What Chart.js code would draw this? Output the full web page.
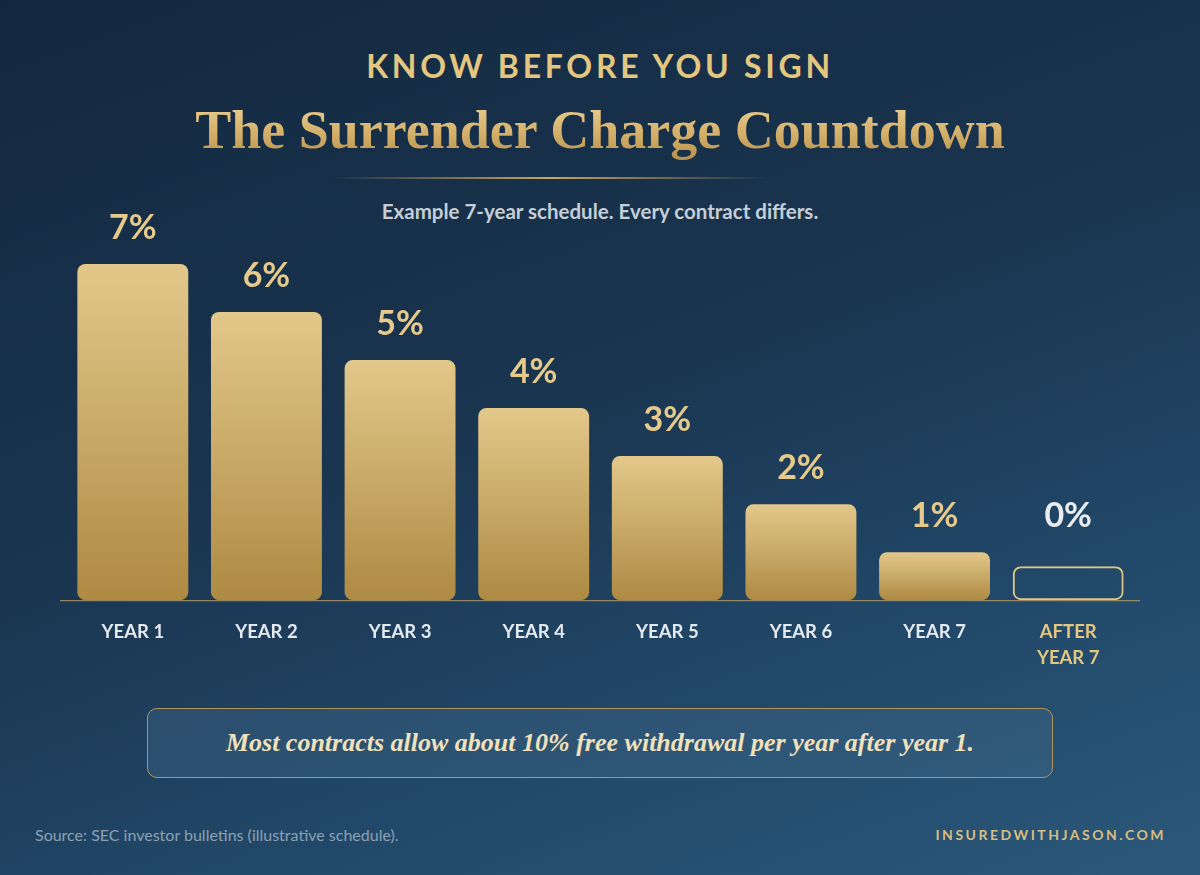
<!DOCTYPE html>
<html>
<head>
<meta charset="utf-8">
<script src="https://cdn.jsdelivr.net/npm/chart.js@4.4.1/dist/chart.umd.min.js"></script>
<style>
  html, body { margin: 0; padding: 0; }
  body {
    width: 1200px; height: 875px; overflow: hidden; position: relative;
    background: linear-gradient(160deg, #13283f 0%, #1a3550 45%, #22496a 75%, #2b5879 100%);
    font-family: Lato, "Open Sans", sans-serif;
  }
  .kicker {
    position: absolute; top: 46px; left: 0; width: 1200px; text-align: center;
    font: 700 32px Lato, sans-serif; letter-spacing: 3.7px; color: #e3c67f;
  }
  .title {
    position: absolute; top: 96px; left: 0; width: 1200px; text-align: center;
    font: 700 54px "Liberation Serif", "DejaVu Serif", serif; line-height: 68px;
  }
  .title span {
    background: linear-gradient(180deg, #ecd196 0%, #d4b06a 55%, #b8914a 100%);
    -webkit-background-clip: text; background-clip: text; color: transparent;
  }
  .rule {
    position: absolute; top: 177px; left: 330px; width: 440px; height: 2px;
    background: linear-gradient(90deg, rgba(201,165,95,0) 0%, #c9a55f 50%, rgba(201,165,95,0) 100%);
  }
  .sub {
    position: absolute; top: 199px; left: 0; width: 1200px; text-align: center;
    font: 700 20.5px Lato, sans-serif; color: #c5ced7;
  }
  #wrap { position: absolute; left: 0; top: 0; width: 1200px; height: 700px; }
  .callout {
    position: absolute; left: 147px; top: 708px; width: 904px; height: 68px;
    border: 1.5px solid #b49558; border-radius: 10px;
    background: rgba(70, 110, 140, 0.35);
    display: flex; align-items: center; justify-content: center;
    font: italic 700 26px "Liberation Serif", "DejaVu Serif", serif; color: #f1e1ba;
  }
  .src {
    position: absolute; left: 35px; top: 825px;
    font: 400 16px Lato, sans-serif; color: #8ca1b3;
  }
  .brand {
    position: absolute; right: 34px; top: 826px;
    font: 700 14px Lato, sans-serif; letter-spacing: 2.5px; color: #d9bd80;
  }
</style>
</head>
<body>
<div class="kicker">KNOW BEFORE YOU SIGN</div>
<div class="title"><span>The Surrender Charge Countdown</span></div>
<div class="rule"></div>
<div class="sub">Example 7-year schedule. Every contract differs.</div>
<div id="wrap"><canvas id="c" width="1200" height="700"></canvas></div>
<div class="callout">Most contracts allow about 10% free withdrawal per year after year 1.</div>
<div class="src">Source: SEC investor bulletins (illustrative schedule).</div>
<div class="brand">INSUREDWITHJASON.COM</div>
<script>
const categories = ["YEAR 1", "YEAR 2", "YEAR 3", "YEAR 4", "YEAR 5", "YEAR 6", "YEAR 7", ["AFTER", "YEAR 7"]];
const charges = [7, 6, 5, 4, 3, 2, 1, 0];
const chargeLabels = ["7%", "6%", "5%", "4%", "3%", "2%", "1%", "0%"];
const yMax = 7;

function barFill(ctx) {
  const chart = ctx.chart;
  const v = ctx.raw;
  if (v === 0) return "rgba(0,0,0,0)";
  if (!chart.chartArea) return "#c9a865";
  const ys = chart.scales.y;
  const top = ys.getPixelForValue(v), bot = ys.getPixelForValue(0);
  const g = chart.ctx.createLinearGradient(0, top, 0, bot);
  g.addColorStop(0, "#e3c88b");
  g.addColorStop(1, "#ae8a43");
  return g;
}

const labelPlugin = {
  id: "valueLabels",
  beforeDatasetsDraw(chart) {
    const { ctx } = chart;
    const y0 = chart.scales.y.getPixelForValue(0);
    ctx.save();
    ctx.strokeStyle = "rgba(190,160,100,0.75)";
    ctx.lineWidth = 1.2;
    ctx.beginPath();
    ctx.moveTo(60, y0 + 0.5);
    ctx.lineTo(1140, y0 + 0.5);
    ctx.stroke();
    ctx.restore();
  },
  afterDatasetsDraw(chart) {
    const { ctx } = chart;
    const meta = chart.getDatasetMeta(0);
    const ys = chart.scales.y;
    ctx.save();
    ctx.font = "700 34px Lato, sans-serif";
    ctx.textAlign = "center";
    ctx.textBaseline = "middle";
    meta.data.forEach((bar, i) => {
      const v = charges[i];
      const y = ys.getPixelForValue(Math.max(v, 1)) - 36;
      ctx.fillStyle = v === 0 ? "#e9edf0" : "#e6ca8c";
      ctx.fillText(chargeLabels[i], bar.x, y);
    });
    ctx.restore();
  }
};

new Chart(document.getElementById("c"), {
  type: "bar",
  data: {
    labels: categories,
    datasets: [{
      data: charges,
      backgroundColor: barFill,
      borderColor: (ctx) => ctx.raw === 0 ? "#e0c585" : "rgba(0,0,0,0)",
      borderWidth: (ctx) => ctx.raw === 0 ? 2 : 0,
      borderRadius: 8,
      borderSkipped: false,
      minBarLength: 34,
      categoryPercentage: 0.83,
      barPercentage: 1.0
    }]
  },
  options: {
    responsive: false,
    animation: false,
    layout: { padding: { left: 66, right: 65, top: 264, bottom: 10 } },
    plugins: { legend: { display: false }, tooltip: { enabled: false } },
    scales: {
      x: {
        grid: { display: false, drawTicks: false },
        border: { display: false },
        ticks: {
          padding: 19,
          font: { family: "Lato", weight: "700", size: 18.5, lineHeight: 1.4 },
          color: (c) => c.index === 7 ? "#e3c67f" : "#e4e9ee",
          maxRotation: 0
        }
      },
      y: {
        display: false,
        min: 0, max: yMax
      }
    }
  },
  plugins: [labelPlugin]
});
</script>
</body>
</html>
